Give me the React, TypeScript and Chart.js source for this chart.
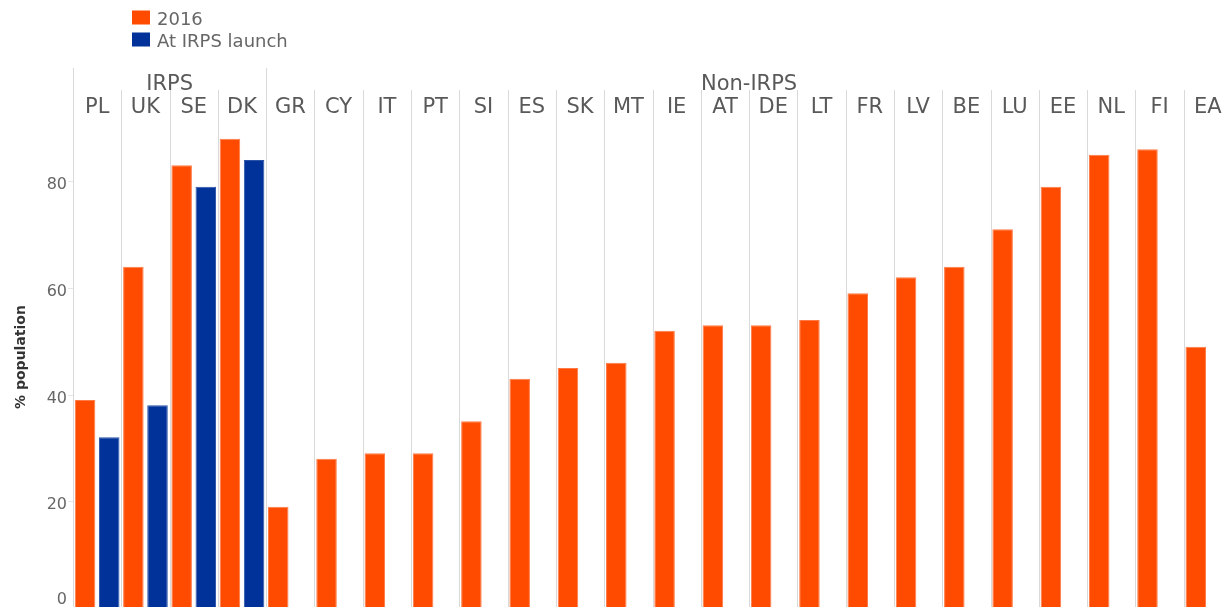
import React, { useEffect, useRef } from 'react';
import { Chart, registerables } from 'chart.js';

Chart.register(...registerables);

const categories = ['PL', 'UK', 'SE', 'DK', 'GR', 'CY', 'IT', 'PT', 'SI', 'ES', 'SK', 'MT', 'IE', 'AT', 'DE', 'LT', 'FR', 'LV', 'BE', 'LU', 'EE', 'NL', 'FI', 'EA'];
const values2016 = [39, 64, 83, 88, 19, 28, 29, 29, 35, 43, 45, 46, 52, 53, 53, 54, 59, 62, 64, 71, 79, 85, 86, 49];
const valuesLaunch = [32, 38, 79, 84, null, null, null, null, null, null, null, null, null, null, null, null, null, null, null, null, null, null, null, null];
const seriesLabels = ['2016', 'At IRPS launch'];
const groupLabels = ['IRPS', 'Non-IRPS'];
const groupStarts = [0, 4];
const groupEnds = [3, 23];
const yTicks = [0, 20, 40, 60, 80];
const yTitle = '% population';

const ORANGE = '#FF4B00';
const BLUE = '#003299';
const FONT = '"DejaVu Sans", sans-serif';

const overlayPlugin = {
  id: 'overlay',
  beforeDatasetsDraw(chart: any) {
    const { ctx, chartArea, scales } = chart;
    const x = scales.x;
    const y = scales.y;
    const half = (x.getPixelForValue(1) - x.getPixelForValue(0)) / 2;
    ctx.save();
    ctx.strokeStyle = '#d9d9d9';
    ctx.lineWidth = 1;
    categories.forEach((_, i) => {
      const px = Math.round(x.getPixelForValue(i) - half) + 0.5;
      const top = groupStarts.includes(i) ? chartArea.top : chartArea.top + 22;
      ctx.beginPath();
      ctx.moveTo(px, top);
      ctx.lineTo(px, chartArea.bottom);
      ctx.stroke();
    });
    ctx.strokeStyle = '#e6e6e6';
    yTicks.forEach((v) => {
      const py = Math.round(y.getPixelForValue(v)) + 0.5;
      ctx.beginPath();
      ctx.moveTo(chartArea.left - 5, py);
      ctx.lineTo(chartArea.left, py);
      ctx.stroke();
    });
    ctx.restore();
  },
  afterDatasetsDraw(chart: any) {
    const { ctx, chartArea, scales } = chart;
    const x = scales.x;
    const y = scales.y;
    const half = (x.getPixelForValue(1) - x.getPixelForValue(0)) / 2;
    ctx.save();
    // category labels
    ctx.fillStyle = '#595959';
    ctx.font = `21px ${FONT}`;
    ctx.textAlign = 'center';
    ctx.textBaseline = 'alphabetic';
    categories.forEach((c, i) => {
      ctx.fillText(c, x.getPixelForValue(i), chartArea.top + 45);
    });
    // group labels
    groupLabels.forEach((g, k) => {
      const left = x.getPixelForValue(groupStarts[k]) - half;
      const right = x.getPixelForValue(groupEnds[k]) + half;
      ctx.fillText(g, (left + right) / 2, chartArea.top + 22);
    });
    // y tick labels
    ctx.fillStyle = '#666666';
    ctx.font = `16px ${FONT}`;
    ctx.textAlign = 'right';
    yTicks.forEach((v) => {
      let py = y.getPixelForValue(v) + 8;
      if (py > chartArea.bottom - 4) py = chartArea.bottom - 4;
      ctx.fillText(String(v), chartArea.left - 6, py);
    });
    // y title
    ctx.fillStyle = '#333333';
    ctx.font = `bold 14px ${FONT}`;
    ctx.textAlign = 'center';
    ctx.translate(25, 357);
    ctx.rotate(-Math.PI / 2);
    ctx.fillText(yTitle, 0, 0);
    ctx.restore();

    // legend
    ctx.save();
    const ds = chart.data.datasets;
    ctx.font = `18px ${FONT}`;
    ctx.textAlign = 'left';
    ctx.textBaseline = 'alphabetic';
    ds.forEach((d: any, i: number) => {
      const top = 10.5 + i * 22;
      ctx.fillStyle = d.backgroundColor;
      ctx.fillRect(132, top, 18, 14);
      ctx.fillStyle = '#666666';
      ctx.fillText(d.label, 157, top + 14);
    });
    ctx.restore();
  },
};

export default function App() {
  const ref = useRef<HTMLCanvasElement | null>(null);
  useEffect(() => {
    document.body.style.margin = '0';
    if (!ref.current) return;
    const chart = new Chart(ref.current, {
      type: 'bar',
      data: {
        labels: categories,
        datasets: [
          {
            label: seriesLabels[0],
            data: values2016,
            backgroundColor: ORANGE,
            borderColor: '#ff7a45',
            borderWidth: 1,
            categoryPercentage: 1.0,
            barPercentage: 0.85,
          },
          {
            label: seriesLabels[1],
            data: valuesLaunch,
            backgroundColor: BLUE,
            borderColor: '#2a53a8',
            borderWidth: 1,
            categoryPercentage: 1.0,
            barPercentage: 0.85,
          },
        ],
      },
      options: {
        responsive: false,
        animation: false,
        devicePixelRatio: 1,
        layout: { padding: { left: 73, right: 8, top: 68, bottom: 8 } },
        plugins: { legend: { display: false }, tooltip: { enabled: false } },
        scales: {
          x: { display: false, grid: { display: false } },
          y: { display: false, min: 0, max: 101.25, grid: { display: false } },
        },
      },
      plugins: [overlayPlugin],
    });
    return () => chart.destroy();
  }, []);
  return (
    <div style={{ width: 1227, height: 607, overflow: 'hidden', position: 'relative' }}>
      <canvas ref={ref} width={1240} height={616} style={{ display: 'block' }} />
    </div>
  );
}
